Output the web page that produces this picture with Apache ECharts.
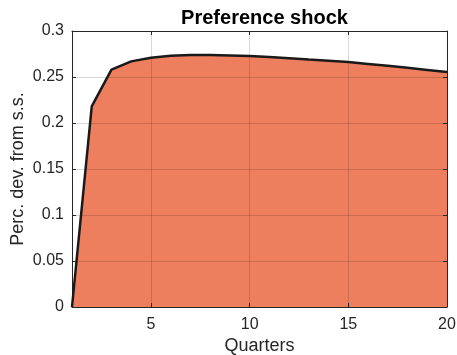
<!DOCTYPE html>
<html>
<head>
<meta charset="utf-8">
<script src="https://cdn.jsdelivr.net/npm/echarts@6/dist/echarts.min.js"></script>
<style>html,body{margin:0;padding:0;background:#fff;}#c{width:457px;height:355px;}</style>
</head>
<body>
<div id="c"></div>
<script>
const quarters = [1,2,3,4,5,6,7,8,9,10,11,12,13,14,15,16,17,18,19,20];
const response = [0, 0.218, 0.258, 0.267, 0.271, 0.273, 0.2738, 0.274, 0.2735, 0.2728, 0.2718, 0.2705, 0.269, 0.2677, 0.2662, 0.2642, 0.2622, 0.26, 0.2577, 0.2554];
const xTicks = [5, 10, 15, 20];
const titleText = 'Preference shock';
const xName = 'Quarters';
const yName = 'Perc. dev. from s.s.';

const pts = quarters.map((q, i) => [q, response[i]]);
const font = 'Liberation Sans, Arial, Helvetica, sans-serif';
const axisCol = '#262626';

const chart = echarts.init(document.getElementById('c'), null, {renderer: 'canvas'});
chart.setOption({
  animation: false,
  backgroundColor: '#fff',
  title: {
    text: titleText, left: 259.5, textAlign: 'center', top: 3,
    textStyle: {fontFamily: font, fontSize: 20, fontWeight: 'bold', color: '#000'}
  },
  grid: {left: 72, right: 10, top: 31, bottom: 48, containLabel: false, outerBoundsMode: 'none'},
  xAxis: [{
    type: 'value', min: 1, max: 20, z: 2,
    name: xName, nameLocation: 'middle', nameGap: 30, nameMoveOverlap: false,
    nameTextStyle: {fontFamily: font, fontSize: 18, color: axisCol},
    axisLine: {show: true, onZero: false, lineStyle: {color: axisCol, width: 1}},
    axisTick: {show: true, inside: true, length: 4, customValues: xTicks, lineStyle: {color: axisCol}},
    axisLabel: {customValues: xTicks, fontFamily: font, fontSize: 16, color: axisCol, margin: 10},
    splitLine: {show: true, lineStyle: {color: 'rgba(0,0,0,0.15)', width: 1}}
  }, {
    type: 'value', min: 1, max: 20, position: 'top', z: 2,
    axisLine: {show: true, onZero: false, lineStyle: {color: axisCol, width: 1}},
    axisTick: {show: true, inside: true, length: 4, customValues: xTicks, lineStyle: {color: axisCol}},
    axisLabel: {show: false}, splitLine: {show: false}
  }],
  yAxis: [{
    type: 'value', min: 0, max: 0.3, interval: 0.05, z: 2,
    name: yName, nameLocation: 'middle', nameGap: 45, nameMoveOverlap: false,
    nameTextStyle: {fontFamily: font, fontSize: 18, color: axisCol},
    axisLine: {show: true, onZero: false, lineStyle: {color: axisCol, width: 1}},
    axisTick: {show: true, inside: true, length: 4, lineStyle: {color: axisCol}},
    axisLabel: {fontFamily: font, fontSize: 16, color: axisCol, margin: 8},
    splitLine: {show: true, lineStyle: {color: 'rgba(0,0,0,0.15)', width: 1}}
  }, {
    type: 'value', min: 0, max: 0.3, interval: 0.05, position: 'right', z: 2,
    axisLine: {show: true, onZero: false, lineStyle: {color: axisCol, width: 1}},
    axisTick: {show: true, inside: true, length: 4, lineStyle: {color: axisCol}},
    axisLabel: {show: false}, splitLine: {show: false}
  }],
  series: [{
    type: 'line', data: pts, z: 1, symbol: 'none', silent: true,
    lineStyle: {width: 0, opacity: 0},
    areaStyle: {color: '#EE7F5E', opacity: 1}
  }, {
    type: 'line', data: pts, z: 3, symbol: 'none', silent: true,
    lineStyle: {width: 2.5, color: '#1a1a1a'}
  }]
});
</script>
</body>
</html>
